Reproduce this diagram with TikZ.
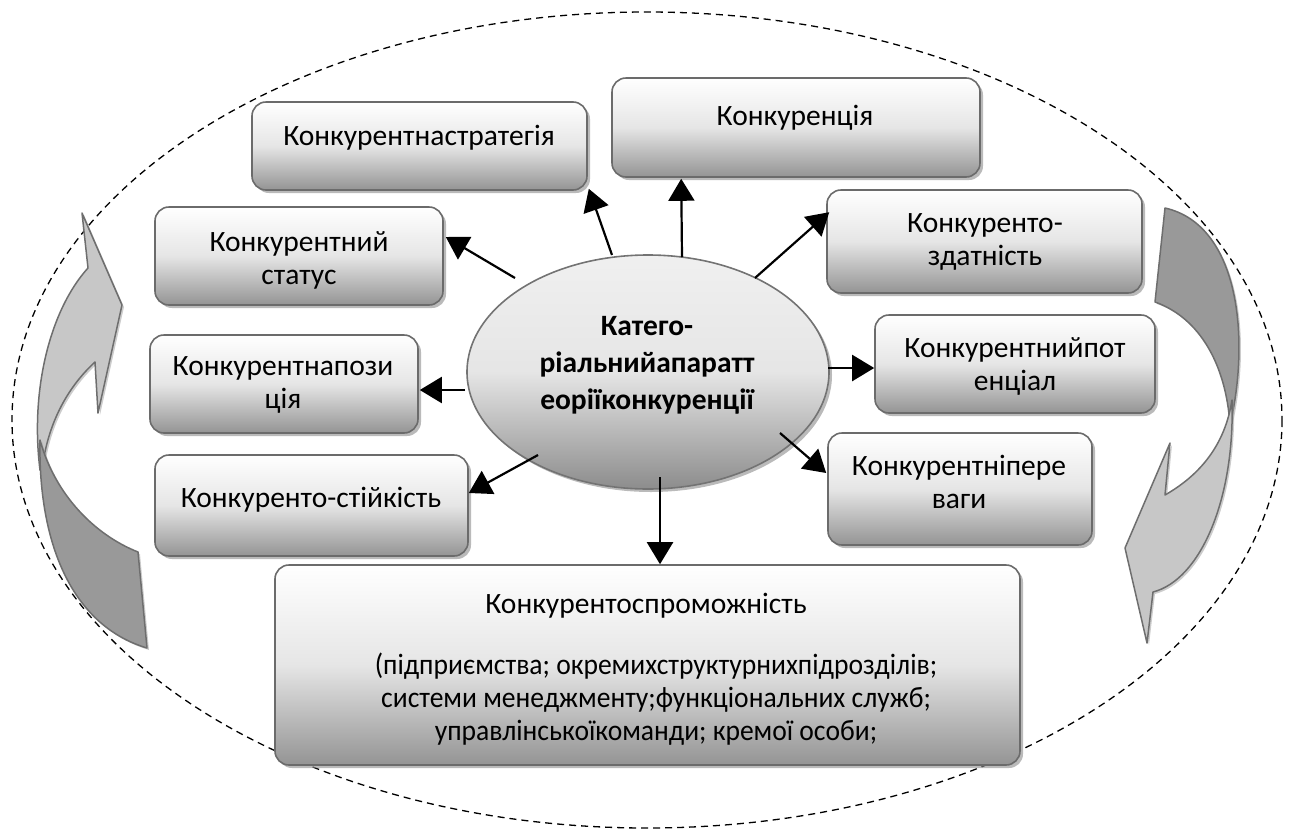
\documentclass[tikz,border=0pt]{standalone}
\usepackage{fontspec}
\setmainfont{Carlito}
\newfontfamily\narrowfont[FakeStretch=0.935]{Carlito}
\usetikzlibrary{arrows.meta,shapes.geometric,shadows,calc}
\begin{document}
\begin{tikzpicture}[x=1pt,y=-1pt,
  box/.style={draw=black!58, line width=1.6pt, rounded corners=14pt,
    top color=white, bottom color=black!42, middle color=black!10,
    drop shadow={shadow xshift=3pt,shadow yshift=-3pt,fill=black!45,opacity=0.6}},
  hub/.style={ellipse, draw=black!55, line width=1.6pt,
    top color=black!6, bottom color=black!45, middle color=black!10,
    drop shadow={shadow xshift=3pt,shadow yshift=-3pt,fill=black!45,opacity=0.6}},
  lbl/.style={font=\fontsize{29.5}{33}\selectfont, align=center, inner sep=0pt, anchor=base},
  hublbl/.style={font=\fontsize{29.5}{37}\selectfont\bfseries, align=center, inner sep=0pt, anchor=base},
  arr/.style={line width=2.2pt, -{Triangle[length=22pt,width=26pt]}},
  lightarrow/.style={draw=black!57, line width=1.5pt, fill=black!22, line join=round,
    drop shadow={shadow xshift=2pt,shadow yshift=-2pt,fill=black!40,opacity=0.5}},
  darkarrow/.style={draw=black!57, line width=1.5pt, fill=black!40, line join=round,
    drop shadow={shadow xshift=2pt,shadow yshift=-2pt,fill=black!40,opacity=0.5}},
  frame/.style={draw=black, line width=1.3pt, dash pattern=on 7pt off 5pt}
]
\useasboundingbox (0,0) rectangle (1294,828);

% outer dashed ellipse
\draw[frame] (647,420) ellipse [x radius=635, y radius=408];

% curved block arrows
\path[lightarrow] (40,470) .. controls (30,390) and (50,310) .. (88,268) -- (82,213) -- (122,305) -- (98,413) -- (95,362) .. controls (70,385) and (48,420) .. (42,470) -- cycle;
\path[darkarrow] (40,440) .. controls (38,540) and (70,625) .. (147,648) -- (138,552) .. controls (95,535) and (55,495) .. (40,440) -- cycle;
\path[darkarrow] (1165,208) .. controls (1240,225) and (1250,340) .. (1230,425) .. controls (1226,365) and (1200,318) .. (1155,302) -- cycle;
\path[lightarrow] (1232,400) .. controls (1235,500) and (1200,580) .. (1153,592) -- (1147,643) -- (1125,548) -- (1170,443) -- (1165,495) .. controls (1200,475) and (1225,445) .. (1232,400) -- cycle;

% boxes
\node[box, minimum width=335pt, minimum height=88pt]  (strat)   at (419.5,146) {};
\node[box, minimum width=368pt, minimum height=99pt]  (konk)    at (796,127.5) {};
\node[box, minimum width=315pt, minimum height=103pt] (zdat)    at (984.5,241.5) {};
\node[box, minimum width=280pt, minimum height=98pt]  (potenc)  at (1015,364) {};
\node[box, minimum width=264pt, minimum height=112pt] (perevag) at (960,489) {};
\node[box, minimum width=288pt, minimum height=98pt]  (status)  at (299,256) {};
\node[box, minimum width=268pt, minimum height=98pt]  (pozic)   at (284,384) {};
\node[box, minimum width=313pt, minimum height=101pt] (stiyk)   at (311.5,505.5) {};
\node[box, minimum width=745pt, minimum height=200pt] (sprom)   at (647.5,665) {};

% central ellipse
\node[hub, minimum width=362pt, minimum height=234pt] (c) at (648,372) {};

% texts (anchor = baseline of the last line)
\node[lbl] (tstrat)   at (419,145) {Конкурентнастратегія};
\node[lbl] (tkonk)    at (795,125) {Конкуренція};
\node[lbl] (tzdat)    at (985,265) {Конкуренто-\\здатність};
\node[lbl] (tpotenc)  at (1015,390) {Конкурентнийпот\\енціал};
\node[lbl] (tperevag) at (959,508) {Конкурентніпере\\ваги};
\node[lbl] (tstatus)  at (299,284) {Конкурентний\\статус};
\node[lbl] (tpozic)   at (283,408) {Конкурентнапози\\ція};
\node[lbl] (tstiyk)   at (311,507) {Конкуренто-стійкість};
\node[lbl] (tsprom)   at (646,613) {Конкурентоспроможність};
\node[lbl, font=\fontsize{29.5}{33}\narrowfont] (tsprom2)  at (656,740) {(підприємства; окремихструктурнихпідрозділів;\\системи менеджменту;функціональних служб;\\управлінськоїкоманди; кремої особи;};
\node[hublbl] (tc) at (647,409) {Катего-\\ріальнийапаратт\\еоріїконкуренції};

% connectors
\draw[arr] ($(c)+(-36,-117)$) -- ($(strat.south east)+(1,-2)$);
\draw[arr] ($(c)+(34,-115)$) -- ($(konk.south west)+(70,1)$);
\draw[arr] ($(c)+(107,-94)$) -- ($(zdat.north west)+(3,23)$);
\draw[arr] ($(c)+(180,-4)$) -- ($(potenc.west)+(0,4)$);
\draw[arr] ($(c)+(132,61)$) -- ($(perevag.west)+(-1,-16)$);
\draw[arr] ($(c)+(-133,-94)$) -- ($(status.east)+(2,-19)$);
\draw[arr] ($(c)+(-183,18)$) -- ($(pozic.east)+(1,6)$);
\draw[arr] ($(c)+(-110,83)$) -- ($(stiyk.east)+(0,-12.5)$);
\draw[arr] ($(c)+(12,105)$) -- ($(sprom.north)+(12.5,0)$);
\end{tikzpicture}
\end{document}
